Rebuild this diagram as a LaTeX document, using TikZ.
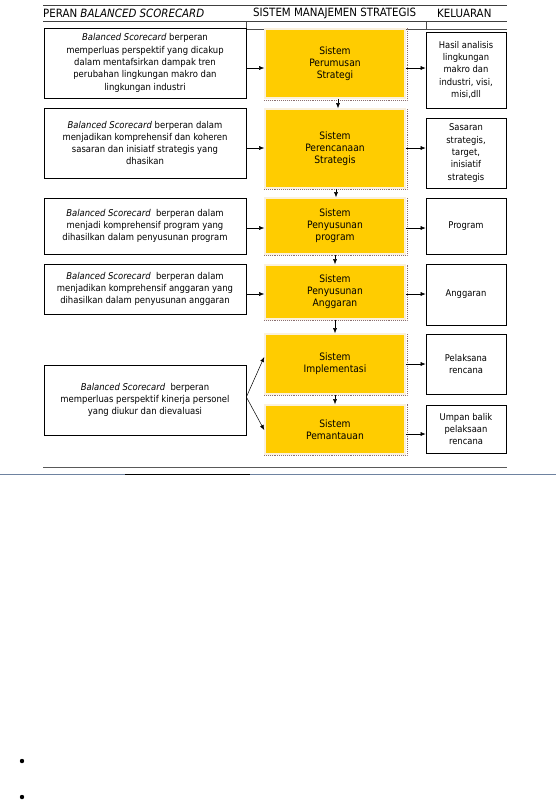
\documentclass[tikz,border=0pt]{standalone}
\usepackage{fontspec}
\setmainfont{DejaVu Sans Condensed}
\usetikzlibrary{arrows.meta}
\definecolor{ybox}{HTML}{FFCC00}
\definecolor{cream}{HTML}{FBF1DC}
\definecolor{dotc}{HTML}{8A6E6E}
\tikzset{
  leftbox/.style={draw=black, line width=0.7pt, fill=white, align=center, font=\fontsize{9.4}{12.3}\selectfont, inner sep=0pt},
  ybox/.style={draw=cream, line width=1.6pt, fill=ybox, align=center, font=\fontsize{10.2}{12}\selectfont, inner sep=0pt},
  outbox/.style={draw=black, line width=0.7pt, fill=white, align=center, font=\fontsize{9.3}{12.4}\selectfont, inner sep=0pt},
  conn/.style={-{Latex[length=5pt,width=4pt]}, line width=0.5pt},
  hdr/.style={font=\fontsize{11.4}{13}\selectfont, anchor=west, inner sep=0pt},
  rule/.style={line width=0.8pt, draw=black!75}
}
\begin{document}
\begin{tikzpicture}[x=1pt,y=-1pt]
\useasboundingbox (0,0) rectangle (556,801);
% header rules
\draw[rule] (43,5) -- (507,5);
\draw[rule] (43,21.5) -- (507,21.5);
\draw[line width=0.5pt, draw=black!70] (246,29) -- (507,29);
\draw[line width=0.5pt, draw=black!70] (246,21.5) -- (246,29);
\draw[line width=0.5pt, draw=black!70] (426,21.5) -- (426,29);
\node[hdr] (h1) at (43,13) {PERAN \textit{BALANCED SCORECARD}};
\node[hdr] (h2) at (253,13) {SISTEM MANAJEMEN STRATEGIS};
\node[hdr] (h3) at (437,13) {KELUARAN};

% left boxes
\node[leftbox, minimum width=202pt, minimum height=70pt] (l1) at (145,63) {\textit{Balanced Scorecard} berperan\\memperluas perspektif yang dicakup\\dalam mentafsirkan dampak tren\\perubahan lingkungan makro dan\\lingkungan industri};
\node[leftbox, minimum width=202pt, minimum height=70pt] (l2) at (145,143) {\textit{Balanced Scorecard} berperan dalam\\menjadikan komprehensif dan koheren\\sasaran dan inisiatf strategis yang\\dhasikan};
\node[leftbox, minimum width=202pt, minimum height=56pt] (l3) at (145,226) {\textit{Balanced Scorecard}\ \ berperan dalam\\menjadi komprehensif program yang\\dihasilkan dalam penyusunan program};
\node[leftbox, minimum width=202pt, minimum height=50pt] (l4) at (145,289) {\textit{Balanced Scorecard}\ \ berperan dalam\\menjadikan komprehensif anggaran yang\\dihasilkan dalam penyusunan anggaran};
\node[leftbox, minimum width=202pt, minimum height=70pt] (l5) at (145,400) {\textit{Balanced Scorecard}\ \ berperan\\memperluas perspektif kinerja personel\\yang diukur dan dievaluasi};

% yellow boxes: shadows (dotted right/bottom)
\foreach \yt/\yb in {28/100, 108/189, 197/255, 264/320, 333/395, 404/455}{
  \draw[dotc, densely dotted, line width=0.9pt] (264,\yb) -- (407,\yb) -- (407,\yt);
}
\node[ybox, minimum width=140pt, minimum height=69pt] (y1) at (335,63.5) {Sistem\\Perumusan\\Strategi};
\node[ybox, minimum width=140pt, minimum height=79pt] (y2) at (335,148.5) {Sistem\\Perencanaan\\Strategis};
\node[ybox, minimum width=140pt, minimum height=56pt] (y3) at (335,226) {Sistem\\Penyusunan\\program};
\node[ybox, minimum width=140pt, minimum height=54pt] (y4) at (335,292) {Sistem\\Penyusunan\\Anggaran};
\node[ybox, minimum width=140pt, minimum height=60pt] (y5) at (335,364) {Sistem\\Implementasi};
\node[ybox, minimum width=140pt, minimum height=49pt] (y6) at (335,429.5) {Sistem\\Pemantauan};

% output boxes
\node[outbox, minimum width=80pt, minimum height=76pt] (o1) at (466,70) {Hasil analisis\\lingkungan\\makro dan\\industri, visi,\\misi,dll};
\node[outbox, minimum width=80pt, minimum height=70pt] (o2) at (466,153) {Sasaran\\strategis,\\target,\\inisiatif\\strategis};
\node[outbox, minimum width=80pt, minimum height=56pt] (o3) at (466,226) {Program};
\node[outbox, minimum width=80pt, minimum height=61pt] (o4) at (466,294.5) {Anggaran};
\node[outbox, minimum width=80pt, minimum height=60pt] (o5) at (466,364) {Pelaksana\\rencana};
\node[outbox, minimum width=80pt, minimum height=48pt] (o6) at (466,429) {Umpan balik\\pelaksaan\\rencana};

% connectors left -> yellow
\draw[conn] (l1.east |- 0,68) -- (y1.west |- 0,68);
\draw[conn] (l2.east |- 0,148) -- (y2.west |- 0,148);
\draw[conn] (l3.east |- 0,228) -- (y3.west |- 0,228);
\draw[conn] (l4.east |- 0,294) -- (y4.west |- 0,294);
\draw[conn] (l5.east |- 0,397) -- (y5.west |- 0,357);
\draw[conn] (l5.east |- 0,397) -- (y6.west |- 0,430);
% yellow -> output
\draw[conn] (y1.east |- 0,68) -- (o1.west |- 0,68);
\draw[conn] (y2.east |- 0,148) -- (o2.west |- 0,148);
\draw[conn] (y3.east |- 0,228) -- (o3.west |- 0,228);
\draw[conn] (y4.east |- 0,294) -- (o4.west |- 0,294);
\draw[conn] (y5.east |- 0,364) -- (o5.west |- 0,364);
\draw[conn] (y6.east |- 0,434) -- (o6.west |- 0,434);
% yellow -> yellow
\draw[conn] ([xshift=3pt]y1.south) -- ([xshift=3pt]y2.north);
\draw[conn] ([xshift=1pt]y2.south) -- ([xshift=1pt]y3.north);
\draw[conn] (y3.south) -- (y4.north);
\draw[conn] (y4.south) -- (y5.north);
\draw[conn] (y5.south) -- (y6.north);

% bottom rules
\draw[line width=1pt, draw=black!65] (43,467) -- (507,467);
\draw[line width=0.8pt, draw={rgb,255:red,110;green,130;blue,160}] (0,474) -- (556,474);
\draw[line width=0.8pt, draw=black] (125,474) -- (250,474);

% bullets
\fill (22,761) circle (2.2pt);
\fill (22,797) circle (2.2pt);
\end{tikzpicture}
\end{document}
